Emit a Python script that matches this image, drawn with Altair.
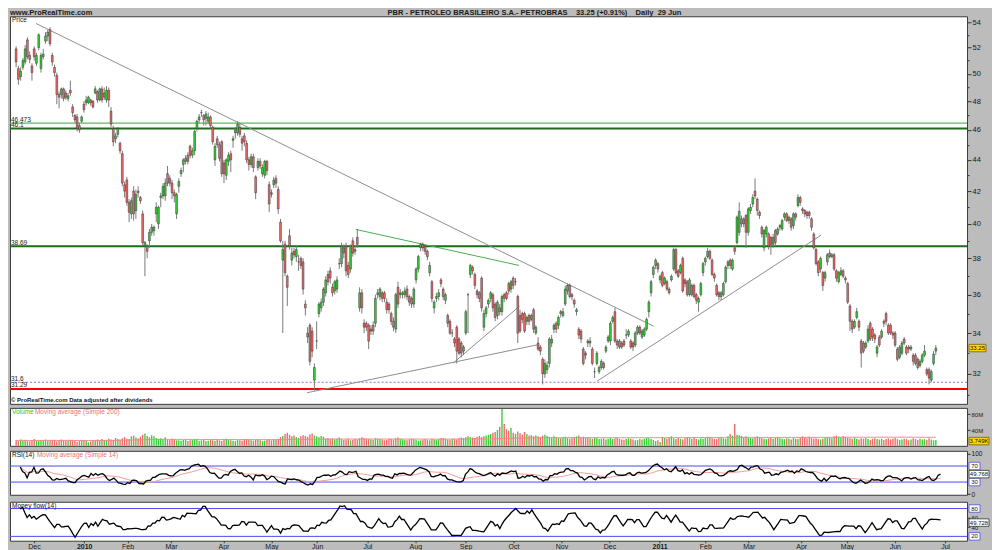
import altair as alt
import pandas as pd
import numpy as np

# ---------------- data (daily candles, PBR) ----------------
opens = [
51.9,50.4,49.8,50.5,50.9,52.6,51.4,50.6,51.9,50.8,
52.0,50.4,51.3,52.5,52.9,53.4,51.4,50.5,49.9,48.5,
48.5,48.9,48.6,48.2,48.8,47.6,47.0,46.9,46.3,46.6,
47.8,47.9,47.9,48.1,48.0,48.6,48.7,48.1,48.9,48.3,
48.1,48.8,47.3,46.1,45.4,45.7,45.1,44.4,42.4,42.7,
41.3,40.6,42.0,40.8,42.0,41.6,40.6,38.7,38.7,39.0,
39.5,39.6,40.6,40.0,41.6,41.7,41.7,43.1,42.8,42.5,
41.9,40.6,42.3,43.1,43.7,43.9,44.3,44.9,44.3,44.6,
46.1,46.7,47.2,47.0,46.8,46.6,46.9,46.2,44.0,45.4,
45.0,45.2,43.8,43.0,43.9,44.4,45.3,45.8,45.8,46.2,
45.4,45.6,45.1,44.0,43.7,44.2,42.9,43.5,43.9,43.1,
43.0,43.9,42.4,41.9,42.4,42.8,42.1,40.1,37.9,38.8,
37.0,39.3,37.9,38.4,38.1,37.8,38.0,37.8,35.5,34.0,
34.4,34.1,31.7,33.6,35.0,35.3,35.6,36.1,37.1,37.3,
36.4,36.2,36.3,37.7,37.7,38.6,38.7,37.6,37.4,39.0,
38.5,39.2,35.3,36.1,34.5,34.5,34.4,34.1,34.4,34.5,
36.0,35.9,36.1,36.1,35.6,35.5,35.0,34.6,34.2,36.4,
36.0,36.0,36.0,36.3,35.9,35.8,35.5,36.8,37.4,38.6,
38.8,38.7,38.4,37.2,36.7,35.3,35.8,35.9,36.8,36.3,
35.7,34.9,34.6,34.0,33.7,34.3,33.7,33.5,33.1,34.0,
36.0,37.1,37.5,37.1,36.2,36.1,36.9,34.3,35.0,35.5,
35.8,36.0,35.5,34.9,35.3,35.1,36.0,36.1,36.6,36.3,
36.9,36.7,35.9,34.9,35.0,35.0,34.6,34.9,34.7,35.2,
34.0,33.5,33.3,32.7,32.0,32.2,32.5,33.5,34.2,34.5,
34.4,35.1,34.9,35.5,36.2,36.5,36.0,35.7,35.1,34.2,
34.1,33.2,33.0,33.6,33.5,33.2,32.1,32.5,32.1,32.3,
32.5,33.1,33.6,33.6,34.6,35.1,33.6,33.6,33.5,33.6,
33.9,33.9,33.6,33.5,33.4,34.0,34.3,33.8,33.9,34.2,
35.1,36.1,37.1,37.6,37.7,36.8,37.2,36.6,36.7,36.3,
36.8,37.4,38.5,37.3,37.2,38.0,36.8,36.7,36.0,36.5,
36.5,36.0,35.6,36.0,37.2,37.8,38.1,38.4,37.9,37.1,
36.5,36.1,35.9,36.0,36.7,37.6,37.9,37.4,38.6,38.9,
39.5,40.0,40.3,40.5,39.5,40.8,41.2,42.0,41.5,40.7,
39.8,38.6,39.4,39.4,39.2,38.8,39.6,39.4,39.8,39.7,
40.4,40.6,40.2,40.3,39.9,40.6,41.1,41.6,40.9,40.8,
40.7,40.7,40.3,39.4,38.5,37.8,37.4,37.2,36.9,37.8,
38.3,38.1,38.2,37.3,36.7,37.1,37.3,36.9,36.6,35.4,
34.6,34.3,34.8,34.6,33.6,33.5,33.3,33.6,34.5,34.2,
33.9,33.0,33.8,33.8,34.6,35.0,34.4,34.4,34.0,34.0,
33.2,32.8,33.0,33.7,33.3,33.3,33.2,32.9,32.9,32.7,
32.4,32.6,32.9,32.2,32.2,31.7,32.5,33.1]

closes = [
50.9,49.6,50.2,51.0,51.9,51.3,51.1,50.1,51.3,51.4,
53.0,51.4,51.5,52.9,53.2,52.3,50.9,50.1,48.5,48.3,
48.9,48.2,48.3,48.4,48.6,47.2,46.7,46.1,46.0,46.9,
47.4,48.1,48.3,47.9,47.6,48.9,48.1,48.9,48.1,48.6,
48.8,48.1,46.4,45.2,45.6,46.1,44.6,42.5,42.0,41.3,
40.7,41.4,40.6,41.8,41.9,41.4,38.9,38.9,38.4,39.5,
39.8,39.8,41.0,41.0,41.7,42.3,42.5,42.5,42.5,41.9,
41.7,41.8,42.6,43.3,44.0,44.1,43.9,44.3,44.6,45.9,
46.6,46.9,47.2,46.7,47.1,46.9,46.3,45.2,44.9,45.0,
44.1,43.1,43.1,44.0,44.3,44.0,45.4,46.0,46.4,45.7,
45.1,45.2,44.0,43.7,44.2,43.5,41.9,43.9,43.6,43.5,
43.9,43.3,41.2,41.8,42.7,42.5,40.9,39.0,38.5,37.2,
36.4,38.7,38.3,38.2,38.5,37.8,37.6,36.3,35.3,33.8,
32.6,33.1,32.3,33.6,35.5,35.6,36.3,36.8,36.7,36.9,
36.1,36.7,36.8,37.7,38.7,38.3,37.3,37.1,38.6,38.3,
38.4,38.8,36.1,35.3,34.3,34.3,33.6,34.2,34.1,35.8,
36.1,36.3,35.8,35.8,35.2,35.2,34.6,34.3,36.0,35.5,
36.1,36.1,36.2,35.9,35.6,35.5,36.3,37.4,38.1,38.8,
38.6,38.4,38.1,37.6,35.8,35.6,35.9,36.1,36.6,35.9,
36.0,34.5,34.0,34.0,33.5,33.1,33.0,33.0,33.3,35.1,
36.0,37.6,37.3,36.5,36.0,35.8,35.3,35.0,35.3,35.7,
36.1,35.3,34.8,35.6,35.1,35.9,35.8,35.8,36.2,36.7,
36.5,36.7,34.0,34.1,34.7,34.1,34.8,34.6,34.9,34.2,
34.3,33.2,33.1,32.0,32.5,32.4,33.7,33.7,34.4,34.2,
34.8,35.0,35.1,36.3,36.5,35.9,35.9,35.5,35.2,33.9,
33.7,32.5,32.9,33.5,33.6,32.5,32.1,33.0,32.3,32.6,
32.3,33.3,33.8,34.5,34.8,33.6,33.4,33.3,33.3,33.4,
33.9,34.1,33.3,33.3,34.0,34.3,34.0,34.1,34.2,34.7,
35.6,36.7,37.5,37.9,37.4,37.0,36.5,36.9,36.3,36.1,
37.0,38.5,37.2,37.0,37.6,36.2,36.6,36.0,36.8,36.0,
35.9,35.7,35.8,36.6,37.7,38.0,38.4,38.0,37.1,36.9,
36.0,35.9,36.1,36.6,37.5,37.8,37.6,37.9,38.4,40.4,
40.75,40.3,40.0,39.5,40.9,41.0,41.6,41.7,40.8,40.5,
39.4,39.6,39.8,38.7,38.8,39.2,38.9,39.7,39.9,40.2,
40.6,40.2,40.4,39.8,40.6,40.4,41.6,41.3,40.8,40.6,
40.5,40.5,39.8,38.6,37.7,37.2,38.0,36.5,37.2,38.2,
38.1,38.2,37.4,36.9,37.2,37.3,37.0,36.8,35.6,34.6,
34.2,34.6,35.1,34.3,33.0,33.1,33.5,34.2,33.7,33.8,
33.7,33.3,33.4,34.1,34.5,34.6,34.0,34.0,33.9,33.4,
32.7,33.3,33.5,33.5,33.0,33.2,33.3,32.6,32.5,32.3,
32.6,32.9,33.1,32.0,31.8,32.1,32.95,33.25]

highs = [
52.1,50.6,50.5,51.2,52.2,52.8,51.7,50.8,52.1,51.6,
53.1,51.6,51.9,53.2,53.4,53.6,51.6,50.7,50.1,48.7,
49.0,49.0,48.8,48.6,49.5,47.8,47.1,47.1,46.5,47.0,
48.0,48.4,48.4,48.2,48.1,49.1,48.8,49.0,49.1,49.0,
49.1,49.0,47.6,46.3,45.8,46.2,45.2,44.6,42.6,42.9,
41.5,41.6,42.3,42.1,42.3,41.7,40.8,39.0,38.8,39.7,
40.0,39.9,41.3,41.1,41.9,42.5,42.8,43.6,43.0,42.7,
42.1,41.9,42.8,43.5,44.1,44.3,44.5,45.0,44.8,46.0,
46.7,47.1,47.4,47.1,47.3,47.2,47.0,46.3,45.1,45.6,
45.2,45.3,44.0,44.1,44.5,44.6,45.6,46.2,46.6,46.5,
45.6,45.8,45.3,44.2,44.4,44.4,43.0,44.1,44.1,43.7,
44.0,44.0,42.6,42.1,42.9,43.0,42.3,40.3,39.0,39.0,
37.1,39.7,38.6,38.6,38.7,38.2,38.1,38.0,35.7,34.3,
34.5,34.3,32.5,34.6,35.6,35.8,36.4,37.0,37.3,37.5,
36.6,36.8,37.0,38.0,38.9,38.8,38.9,37.8,38.8,39.2,
38.7,39.7,36.4,36.3,34.7,34.6,34.5,34.4,34.6,36.0,
36.3,36.4,36.2,36.2,35.8,35.6,35.1,34.8,36.1,36.7,
36.3,36.2,36.4,36.5,36.0,35.9,36.4,37.5,38.2,38.9,
38.9,38.8,38.5,37.8,36.8,35.7,36.1,36.3,36.9,36.4,
36.1,35.0,34.7,34.2,33.8,34.4,33.8,33.6,33.4,35.2,
36.1,37.7,37.6,37.2,36.3,36.2,37.0,35.2,35.4,35.8,
36.2,36.1,35.6,35.7,35.5,36.0,36.1,36.2,36.7,36.8,
37.0,36.9,36.0,35.2,35.1,35.1,34.9,35.0,35.0,35.3,
34.4,33.8,33.4,32.8,32.7,32.6,33.8,33.9,34.5,34.6,
34.9,35.2,35.3,36.5,36.6,36.6,36.1,35.8,35.3,34.3,
34.2,33.3,33.1,33.7,33.8,33.3,32.3,33.1,32.4,32.7,
32.6,33.4,33.9,34.6,34.9,35.3,33.7,33.7,33.6,33.7,
34.2,34.2,33.7,33.6,34.1,34.4,34.4,34.2,34.3,34.8,
35.7,36.8,37.6,38.0,37.8,37.1,37.3,37.0,36.8,36.4,
37.1,38.6,38.6,37.4,37.7,38.1,36.9,36.8,36.9,36.6,
36.6,36.1,35.9,36.7,37.8,38.1,38.6,38.5,38.0,37.2,
36.6,36.2,36.2,36.7,37.6,37.9,38.0,38.0,38.7,40.5,
41.3,40.5,40.4,40.6,41.0,41.2,41.8,42.8,41.6,40.8,
39.9,39.7,39.9,39.5,39.3,39.4,39.7,39.8,40.0,40.3,
40.7,40.7,40.5,40.4,40.7,40.7,41.8,41.7,41.0,40.9,
40.8,40.8,40.4,39.5,38.6,37.9,38.1,37.3,37.3,38.3,
38.5,38.3,38.3,37.4,37.3,37.5,37.4,37.0,36.7,35.5,
34.7,34.7,35.3,34.7,33.7,33.6,33.6,34.4,34.6,34.3,
34.0,33.4,33.9,34.2,34.7,35.1,34.5,34.5,34.1,34.1,
33.3,33.4,33.6,33.8,33.4,33.4,33.4,33.0,33.0,32.8,
32.7,33.0,33.4,32.3,32.3,32.2,33.1,33.4]

lows = [
50.5,49.2,49.5,50.3,50.7,51.1,50.8,49.5,51.0,50.6,
51.8,50.1,51.1,52.3,52.5,52.1,50.6,49.8,47.8,47.5,
48.2,48.0,48.1,48.0,48.4,46.9,46.5,45.9,45.8,46.5,
47.2,47.7,47.8,47.7,47.5,48.5,47.9,48.0,47.9,48.1,
47.9,47.6,46.2,44.9,45.1,45.5,44.4,42.3,41.6,41.1,
40.1,40.3,40.2,40.3,41.6,41.2,38.7,37.0,38.0,38.6,
39.3,39.3,40.1,39.7,41.0,41.5,41.4,42.3,42.3,41.5,
41.3,40.3,41.9,42.9,43.2,43.7,43.7,44.1,44.1,44.3,
45.9,46.5,46.9,46.3,46.3,46.4,46.1,45.0,43.6,44.8,
43.9,42.9,42.5,42.7,43.6,43.2,44.8,45.4,45.6,45.5,
44.6,44.9,43.8,43.3,43.5,43.2,41.5,43.3,43.4,42.9,
42.8,43.0,40.7,41.6,42.2,42.2,40.6,38.9,34.0,37.0,
35.4,38.5,37.6,38.0,37.8,37.3,37.4,36.0,34.9,33.5,
32.4,32.8,31.2,33.2,34.8,35.1,35.4,35.9,36.5,36.6,
35.9,36.0,36.1,37.4,37.5,38.0,37.0,36.9,37.2,38.1,
38.2,38.6,35.1,35.0,34.0,34.1,33.2,33.9,33.9,34.3,
35.8,35.7,35.6,35.6,35.0,35.0,34.4,34.1,34.0,35.3,
35.8,35.8,35.8,35.7,35.4,35.3,35.3,36.6,37.2,38.4,
38.4,38.2,37.9,37.0,35.6,35.0,35.6,35.7,36.4,35.7,
35.5,34.3,33.9,33.8,33.3,32.5,32.9,32.8,32.9,33.9,
34.0,36.9,37.1,36.3,35.8,35.6,35.1,34.1,34.8,35.3,
35.6,35.1,34.6,34.7,34.9,34.9,35.6,35.7,36.0,36.1,
36.3,36.5,33.5,34.0,34.5,34.0,34.4,34.4,34.6,34.0,
33.9,33.1,32.9,31.5,31.8,32.0,32.3,33.3,34.0,34.0,
34.2,34.8,34.8,35.4,36.0,35.8,35.7,35.3,34.9,33.7,
33.5,32.4,32.7,33.3,33.3,32.4,31.8,32.4,32.0,32.2,
32.2,33.0,33.5,33.4,34.5,33.5,33.2,33.2,33.2,33.3,
33.7,33.8,33.2,33.1,33.3,33.9,33.9,33.7,33.8,34.1,
34.8,35.9,36.9,37.4,37.2,36.6,36.4,36.5,36.2,36.0,
36.7,37.3,37.1,36.9,37.1,36.1,36.4,35.9,35.9,35.9,
35.8,35.5,35.1,35.9,37.0,37.6,38.0,37.9,37.0,36.7,
35.9,35.7,35.7,35.9,36.6,37.4,37.4,37.3,38.2,38.8,
39.3,39.8,39.8,38.6,39.3,40.6,41.0,41.5,40.5,40.3,
39.2,38.4,39.2,38.5,38.2,38.6,38.7,39.3,39.6,39.6,
40.2,40.1,40.0,39.6,39.7,40.2,41.0,41.1,40.6,40.4,
40.3,40.3,39.6,38.5,37.6,37.0,37.2,36.2,36.7,37.6,
38.0,38.0,37.3,36.7,36.6,37.0,36.9,36.6,35.5,34.1,
34.0,34.2,34.7,34.1,32.3,33.0,33.2,33.5,33.6,33.6,
33.5,32.8,33.3,33.7,34.3,34.4,33.9,33.9,33.7,33.3,
32.6,32.7,32.9,33.4,32.9,33.0,33.1,32.4,32.4,32.2,
32.3,32.5,32.8,31.9,31.5,31.6,32.4,32.9]

# daily volume, millions of shares
volumes = [
14,12,16,13,15,12,11,14,17,13,12,15,14,16,13,12,14,15,11,13,16,14,12,13,15,14,12,10,13,15,14,12,9,11,
15,14,16,13,17,15,14,18,16,15,20,17,16,19,22,18,17,24,26,21,19,23,28,31,25,22,27,24,20,18,19,17,22,16,15,18,17,14,
14,13,15,16,12,14,15,17,16,13,14,15,12,13,16,14,13,15,14,12,16,18,15,14,13,12,15,14,13,16,17,15,14,13,15,16,14,12,13,15,17,14,16,15,18,
22,25,30,33,28,24,26,22,20,24,27,25,23,29,31,26,24,22,25,23,
18,20,17,19,16,18,21,17,15,16,18,14,15,17,16,19,22,20,18,17,16,15,19,18,17,16,14,15,18,17,16,19,21,18,17,15,14,16,18,17,15,13,14,16,17,15,14,18,16,15,17,19,20,18,16,15,17,18,16,19,21,20,22,24,
22,21,20,23,25,22,24,26,28,30,33,35,40,48,93,55,42,38,45,33,30,36,32,28,35,30,26,27,24,26,
24,22,26,28,25,23,21,24,22,20,19,21,23,20,18,19,22,24,26,21,23,20,22,19,18,21,20,17,18,19,16,18,20,17,19,21,18,16,15,17,19,18,16,14,15,17,16,18,20,19,17,15,12,14,10,
22,20,18,21,24,19,17,20,18,16,19,22,20,18,21,17,16,19,18,20,23,21,19,18,17,20,22,19,18,24,30,26,55,28,27,25,22,24,22,20,19,21,24,22,20,18,17,19,21,18,20,22,19,18,17,19,18,16,20,18,
17,21,24,22,19,23,20,18,19,17,16,18,20,22,21,19,24,26,23,21,25,22,20,19,18,21,17,16,19,18,20,17,15,18,19,17,16,18,15,17,19,16,18,20,17,15,16,18,17,14,16,19,17,15,18,16,17,15,19,16,14,15]

# horizontal support / resistance levels drawn on the chart
level_values = [46.473, 46.1, 38.69, 31.6, 31.29]
level_labels = ["46.473", "46.1", "38.69", "31.6", "31.29"]

# trend lines: (segment, day index, price)
trend_seg = ["a", "a", "c", "c", "d", "d", "e", "e"]
trend_idx = [8.8, 282.1, 128.7, 231.5, 193.6, 222.8, 257.1, 356.2]
trend_price = [53.9, 34.35, 31.11, 33.43, 32.53, 35.39, 31.65, 39.33]
green_idx = [150.3, 222.6]
green_price = [39.67, 37.60]

price_ticks = list(range(31, 55))
last_price = 33.25
title_text = ("PBR - PETROLEO BRASILEIRO S.A.- PETROBRAS\u00a0\u00a0\u00a0\u00a033.25 (+0.91%)"
              "\u00a0\u00a0\u00a0\u00a0Daily\u00a0\u00a029 Jun")

# ---------------- derived tables ----------------
n = len(closes)
holidays = ["2009-11-26", "2009-12-25", "2010-01-01", "2010-01-18", "2010-02-15", "2010-04-02",
            "2010-05-31", "2010-07-05", "2010-09-06", "2010-11-25", "2010-12-24", "2011-01-17",
            "2011-02-21", "2011-04-22", "2011-05-30", "2011-07-04"]
cal = pd.bdate_range("2009-09-01", "2011-07-29", freq="C", holidays=holidays)
end = cal.get_loc(pd.Timestamp("2011-06-29"))
dates = cal[end - n + 1: end + 3]

tick_vals, tick_labs = [], []
for k in range(1, len(dates)):
    if dates[k].month != dates[k - 1].month:
        tick_vals.append(k)
        tick_labs.append(str(dates[k].year) if dates[k].month == 1 else dates[k].strftime("%b"))
year_vals = [v for v, l in zip(tick_vals, tick_labs) if l.isdigit()]
x_label_expr = ("[" + ",".join("'%s'" % l for l in tick_labs) + "][indexof(["
                + ",".join(str(v) for v in tick_vals) + "], datum.value)]")
year_test = " || ".join("datum.value == %d" % v for v in year_vals)

df = pd.DataFrame({"i": np.arange(n), "open": opens, "high": highs, "low": lows,
                   "close": closes, "vol": volumes})
df["dir"] = np.where(df["close"] >= df["open"], "up", "down")

delta = df["close"].diff().fillna(0)
gain = delta.clip(lower=0)
loss = (-delta).clip(lower=0)
ag = gain.ewm(alpha=1 / 14, adjust=True).mean()
al = loss.ewm(alpha=1 / 14, adjust=True).mean()
rsi = 100 - 100 / (1 + ag / al.replace(0, np.nan))
rsi[:4] = np.nan
df["rsi"] = rsi
df["rsi_ma"] = df["rsi"].rolling(14, min_periods=1).mean()
tp = (df["high"] + df["low"] + df["close"]) / 3
rmf = tp * df["vol"]
dtp = tp.diff()
pos = rmf.where(dtp > 0, 0.0).rolling(14, min_periods=1).sum()
neg = rmf.where(dtp < 0, 0.0).rolling(14, min_periods=1).sum()
mfi = 100 - 100 / (1 + pos / neg.replace(0, np.nan))
mfi[:4] = np.nan
df["mfi"] = mfi
df["vol_ma"] = df["vol"].rolling(200, min_periods=1).mean()

trend_df = pd.DataFrame({"seg": trend_seg, "idx": trend_idx, "price": trend_price})
green_df = pd.DataFrame({"idx": green_idx, "price": green_price})
levels_df = pd.DataFrame({"v": level_values, "lab": level_labels})
one = pd.DataFrame({"a": [0]})

# ---------------- styling ----------------
W = 958
H_PRICE, H_VOL, H_RSI, H_MF = 388, 38, 44, 39
XDOM = [-0.5, 418.6]
FONT = "Liberation Sans"
GREEN, RED = "#36d236", "#f26a6a"
BLUE = "#4a4af0"
BG = "#bcbcbc"

xsc = alt.Scale(domain=XDOM, nice=False, zero=False)
x_enc = alt.X("i:Q", scale=xsc, axis=None)
dir_color = alt.Color("dir:N", scale=alt.Scale(domain=["up", "down"], range=[GREEN, RED]), legend=None)


def label(text, x, y, color="#000000", size=6.5, weight="normal", align="left"):
    return alt.Chart(one).mark_text(text=text, align=align, baseline="middle", fontSize=size,
                                    font=FONT, fontWeight=weight, color=color).encode(
        x=alt.value(x), y=alt.value(y))


def box(value, text, width, stroke, fill="white", height=7.5):
    cx = W + 2 + width / 2
    h = height / width
    path = "M-1,-%.3fH1V%.3fH-1Z" % (h, h)
    b = alt.Chart(one).mark_point(shape=path, size=width * width, filled=True, fill=fill,
                                  stroke=stroke, strokeWidth=0.8, opacity=1).encode(
        x=alt.value(cx), y=alt.datum(value))
    t = alt.Chart(one).mark_text(text=text, fontSize=6, font=FONT, color="#111111",
                                 align="center", baseline="middle").encode(
        x=alt.value(cx), y=alt.datum(value))
    return [b, t]


# ---------------- price panel ----------------
ysc = alt.Scale(type="log", domain=[30.60, 54.48], nice=False, zero=False)
price_axis = alt.Axis(orient="right", values=price_ticks, format="d", title=None,
                      labelExpr="datum.value % 2 == 0 ? datum.label : ''",
                      tickSize={"condition": {"test": "datum.value % 2 == 0", "value": 4}, "value": 2},
                      labelPadding=1, labelOverlap=False)

base = alt.Chart(df)
hl = [
    alt.Chart(one).mark_rule(color="#5cb85c", strokeWidth=1.2).encode(y=alt.datum(level_values[0], scale=ysc)),
    alt.Chart(one).mark_rule(color="#1d6b1d", strokeWidth=2).encode(y=alt.datum(level_values[1])),
    alt.Chart(one).mark_rule(color="#1d6b1d", strokeWidth=2).encode(y=alt.datum(level_values[2])),
    alt.Chart(one).mark_rule(color="#9a6ad0", strokeWidth=1, strokeDash=[2, 2]).encode(y=alt.datum(level_values[3])),
    alt.Chart(one).mark_rule(color="#ff0000", strokeWidth=2).encode(y=alt.datum(level_values[4])),
]
lvl_text = alt.Chart(levels_df).mark_text(align="left", baseline="bottom", fontSize=6.5, font=FONT,
                                          color="#222222", dy=-0.5).encode(
    x=alt.value(1), y=alt.Y("v:Q", scale=ysc), text="lab:N")
trend = alt.Chart(trend_df).mark_line(color="#8e8e8e", strokeWidth=1).encode(
    x=alt.X("idx:Q", scale=xsc, axis=None), y=alt.Y("price:Q", scale=ysc), detail="seg:N")
green_line = alt.Chart(green_df).mark_line(color="#4cae4c", strokeWidth=1).encode(
    x=alt.X("idx:Q", scale=xsc, axis=None), y=alt.Y("price:Q", scale=ysc))
wick = base.mark_rule(color="#7a7a7a", strokeWidth=1).encode(
    x=x_enc, y=alt.Y("low:Q", scale=ysc, axis=price_axis), y2="high:Q")
body = base.mark_bar(width=1.8, stroke="#303030", strokeWidth=0.5).encode(
    x=x_enc, y="open:Q", y2="close:Q", color=dir_color)

price_layers = hl + [trend, green_line, wick, body, lvl_text] + box(last_price, "33.25", 17, "#7a6000", "#ffd400") + [
    label("www.ProRealTime.com", 0, -3.5, "#1a1a1a", 7.5, "bold"),
    label(title_text, 525, -3.5, "#1a1a1a", 7.5, "bold", align="center"),
    label("Price", 2, 4, "#222222", 6.5),
    label("\u00a9 ProRealTime.com  Data adjusted after dividends", 1, H_PRICE - 4, "#111111", 6, "bold"),
]
price = alt.layer(*price_layers).properties(width=W, height=H_PRICE)

# ---------------- volume panel ----------------
vsc = alt.Scale(domain=[0, 96], nice=False, zero=True)
vbars = base.mark_bar(width=1.4).encode(
    x=x_enc,
    y=alt.Y("vol:Q", scale=vsc, axis=alt.Axis(orient="right", values=[40, 60, 80], title=None,
                                               labelExpr="datum.value + 'M'", tickSize=3, labelPadding=1,
                                               labelFontSize=6, labelOverlap=False)),
    color=dir_color)
vma = base.mark_line(color="#f08a8a", strokeWidth=1).encode(x=x_enc, y="vol_ma:Q")
vol = alt.layer(vbars, vma, *box(12, "3.749K", 20, "#7a6000", "#ffd400"),
                label("Volume", 2, 4, "#2fbf2f"), label("Moving average (Simple 200)", 25, 4, "#ee7070")
                ).properties(width=W, height=H_VOL)

# ---------------- RSI panel ----------------
rsc = alt.Scale(domain=[-1.7, 107.9], nice=False, zero=False)
rsi_line = base.mark_line(color="#000000", strokeWidth=1.3, clip=True).encode(
    x=x_enc, y=alt.Y("rsi:Q", scale=rsc, axis=alt.Axis(orient="right", values=[0, 100], title=None,
                                                        tickSize=3, labelPadding=1, labelFontSize=6.5,
                                                        labelOverlap=False)))
rsi_ma = base.mark_line(color="#f29a9a", strokeWidth=1, clip=True).encode(x=x_enc, y="rsi_ma:Q")
rsi = alt.layer(
    alt.Chart(one).mark_rule(color=BLUE, strokeWidth=1).encode(y=alt.datum(70, scale=rsc)),
    alt.Chart(one).mark_rule(color=BLUE, strokeWidth=1).encode(y=alt.datum(30)),
    rsi_ma, rsi_line,
    *box(70, "70", 11, BLUE), *box(30, "30", 11, BLUE), *box(49.768, "49.768", 20, "#333333"),
    label("RSI(14)", 2, 4, "#111111"), label("Moving average (Simple 14)", 27, 4, "#ee7070"),
).properties(width=W, height=H_RSI)

# ---------------- Money flow panel ----------------
msc = alt.Scale(domain=[10.6, 94.6], nice=False, zero=False)
x_axis = alt.Axis(values=tick_vals, labelExpr=x_label_expr, tickSize=2, labelPadding=0, domain=False,
                  labelFontSize=7, labelColor="#1a1a1a", title=None,
                  labelFontWeight={"condition": {"test": year_test, "value": "bold"}, "value": "normal"})
mf_line = base.mark_line(color="#000000", strokeWidth=1.3, clip=True).encode(
    x=alt.X("i:Q", scale=xsc, axis=x_axis),
    y=alt.Y("mfi:Q", scale=msc, axis=alt.Axis(orient="right", values=[40, 60], title=None,
                                               tickSize=3, labelPadding=1, labelFontSize=6,
                                               labelOverlap=False)))
mf = alt.layer(
    alt.Chart(one).mark_rule(color=BLUE, strokeWidth=1).encode(y=alt.datum(80, scale=msc)),
    alt.Chart(one).mark_rule(color=BLUE, strokeWidth=1).encode(y=alt.datum(20)),
    mf_line,
    *box(80, "80", 11, BLUE), *box(20, "20", 11, BLUE), *box(49.728, "49.728", 20, "#333333"),
    label("Money flow(14)", 2, 4, "#111111"),
).properties(width=W, height=H_MF)

chart = alt.vconcat(price, vol, rsi, mf, spacing=2).properties(
    background=BG, padding={"left": 0, "top": 0, "right": 0, "bottom": 0}
).configure_view(fill="white", stroke="#3a3a3a", strokeWidth=1).configure_axis(
    grid=False, domain=False, labelFont=FONT, labelFontSize=7.5, labelColor="#1a1a1a",
    tickColor="#333333")

chart.save("out.html", embed_options={"renderer": "svg", "actions": False})
